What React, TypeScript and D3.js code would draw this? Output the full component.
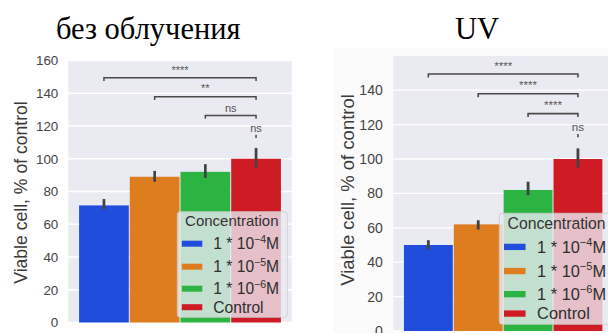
import React from "react";
import * as d3 from "d3";

// ---- data ----
const concentrations = ["1e-4", "1e-5", "1e-6", "Control"];
const legendBase = ["1 * 10", "1 * 10", "1 * 10", "Control"];
const legendExponents = ["−4", "−5", "−6", ""];
const barColors = ["#214ddd", "#de7d1e", "#2bb442", "#cf1b24"];

const noIrrMeans = [71.5, 89, 92, 100];
const noIrrErrLow = [69.1, 85.9, 88.3, 94.6];
const noIrrErrHigh = [75.4, 92.6, 96.7, 106.6];

const uvMeans = [50, 62, 82, 100];
const uvErrLow = [47.3, 59, 79, 95];
const uvErrHigh = [52.8, 64.4, 86.8, 106.2];

const bracketLevels = [149.4, 137.9, 126.4, 114.6];
const bracketFrom = [0, 1, 2, 3];
const bracketTo = [3, 3, 3, 3];
const noIrrSig = ["****", "**", "ns", "ns"];
const uvSig = ["****", "****", "****", "ns"];

const yTicks = [0, 20, 40, 60, 80, 100, 120, 140, 160];
const titles = ["без облучения", "UV"];
const yLabel = "Viable cell, % of control";
const legendTitle = "Concentration";

// ---- layout ----
const panels = [
  {
    title: titles[0], titleX: 148.3,
    means: noIrrMeans, lo: noIrrErrLow, hi: noIrrErrHigh, sig: noIrrSig,
    x0: 68.3, x1: 291.7, yTop: 60, yBottom: 322.5, ymax: 160.3, s: 1,
    legX: 177.3, legY: 211.7, labX: 20.5, labY: 192.5,
  },
  {
    title: titles[1], titleX: 477,
    means: uvMeans, lo: uvErrLow, hi: uvErrHigh, sig: uvSig,
    x0: 393.3, x1: 613, yTop: 56, yBottom: 331, ymax: 159.9, s: 1.05,
    legX: 499.3, legY: 213.3, labX: 347, labY: 190,
  },
];

function Panel({ p }: { p: (typeof panels)[number] }) {
  const x = d3.scaleBand<string>().domain(concentrations).range([p.x0, p.x1]).paddingInner(0).paddingOuter(0.203);
  const y = d3.scaleLinear().domain([0, p.ymax]).range([p.yBottom, p.yTop]);
  const bw = x.bandwidth();
  const cx = (i: number) => (x(concentrations[i]) as number) + bw / 2;
  const s = p.s;
  const ticks = yTicks.filter((t) => t <= p.ymax);
  const legEntries = [32, 55, 77, 95.5];
  return (
    <g>
      <text x={p.titleX} y={38.5} textAnchor="middle" fontFamily="'Liberation Serif', serif" fontSize={30.5} fill="#000">
        {p.title}
      </text>
      <rect x={p.x0} y={p.yTop} width={p.x1 - p.x0} height={p.yBottom - p.yTop} fill="#eaeaf2" />
      {ticks.map((t) => (
        <g key={t}>
          <line x1={p.x0} x2={p.x1} y1={y(t)} y2={y(t)} stroke="#fff" strokeWidth={1.3} />
          <text x={p.x0 - 10 * s} y={y(t)} dy="0.36em" textAnchor="end" fontFamily="'Liberation Sans', Arial, sans-serif" fontSize={13.4 * s} fill="#444">
            {t}
          </text>
        </g>
      ))}
      <text
        transform={`translate(${p.labX},${p.labY}) rotate(-90)`}
        textAnchor="middle" dy="0.36em"
        fontFamily="'Liberation Sans', Arial, sans-serif" fontSize={17.6 * s} fill="#3a3a3a"
      >
        {yLabel}
      </text>
      {p.means.map((v, i) => (
        <rect key={i} x={(x(concentrations[i]) as number) + 0.5} width={bw - 1} y={y(v)} height={y(0) - y(v)} fill={barColors[i]} />
      ))}
      {p.means.map((v, i) => (
        <line key={i} x1={cx(i)} x2={cx(i)} y1={y(p.lo[i])} y2={y(p.hi[i])} stroke="#434343" strokeWidth={2.7 * s} />
      ))}
      {bracketLevels.map((lv, k) => {
        const xa = cx(bracketFrom[k]);
        const xb = cx(bracketTo[k]);
        const yb = y(lv);
        const tk = y(lv - 2);
        const isNs = p.sig[k] === "ns";
        return (
          <g key={k}>
            <path d={`M${xa},${tk}L${xa},${yb}L${xb},${yb}L${xb},${tk}`} fill="none" stroke="#4a4a4a" strokeWidth={1.5 * s} />
            <text
              x={(xa + xb) / 2} y={yb - (isNs ? 3.2 : 4.2) * s} textAnchor="middle"
              fontFamily="'Liberation Sans', Arial, sans-serif" fontSize={11 * s} fill="#555"
            >
              {p.sig[k]}
            </text>
          </g>
        );
      })}
      <g transform={`translate(${p.legX},${p.legY}) scale(${s})`}>
        <rect x={0} y={0} width={110} height={105.6} rx={3} fill="#eaeaf2" fillOpacity={0.8} stroke="#cccccc" strokeOpacity={0.8} strokeWidth={1} />
        <text x={54.5} y={14.7} textAnchor="middle" fontFamily="'Liberation Sans', Arial, sans-serif" fontSize={15} fill="#333">
          {legendTitle}
        </text>
        {legEntries.map((ey, i) => (
          <g key={i}>
            <rect x={4.5} y={ey - 3} width={20.5} height={6} fill={barColors[i]} />
            <text x={36} y={ey + 5.4} fontFamily="'Liberation Sans', Arial, sans-serif" fontSize={15.6} fill="#2e2e2e">
              {legendBase[i]}
              {legendExponents[i] ? (
                <>
                  <tspan dy={-6.5} fontSize={10.5}>{legendExponents[i]}</tspan>
                  <tspan dy={6.5}>M</tspan>
                </>
              ) : null}
            </text>
          </g>
        ))}
      </g>
    </g>
  );
}

export default function App() {
  return (
    <svg width={608} height={333} style={{ position: "absolute", left: 0, top: 0, background: "#fff" }}>
      <rect x={333} y={48} width={275} height={285} fill="#fbfbfb" />
      {panels.map((p, i) => (
        <Panel key={i} p={p} />
      ))}
    </svg>
  );
}
